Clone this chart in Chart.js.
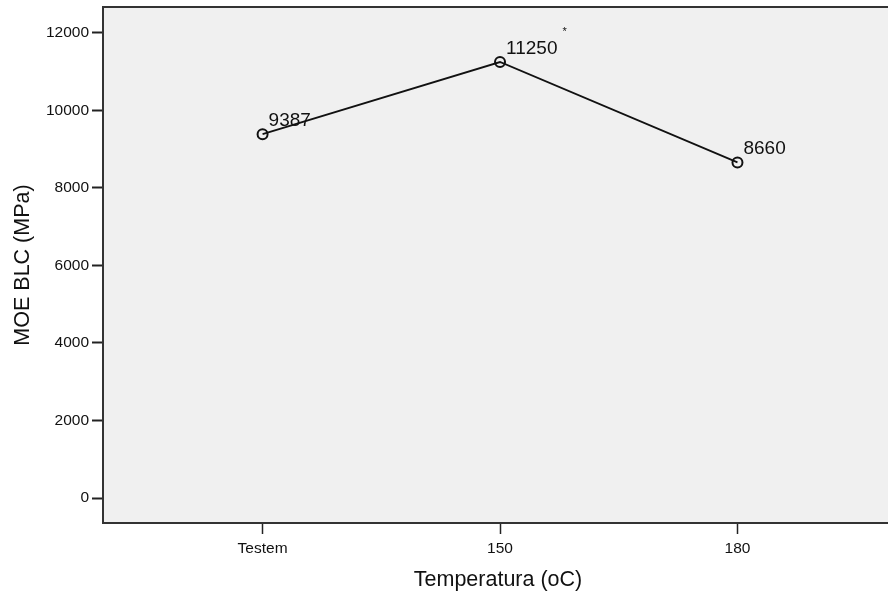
<!DOCTYPE html>
<html lang="pt">
<head>
    <meta charset="UTF-8" />
    <title>MOE BLC x Temperatura</title>
    <script src="https://cdn.jsdelivr.net/npm/chart.js"></script>
    <style>
        html, body {
            margin: 0;
            padding: 0;
            overflow: hidden;
            background: #fff;
        }
        canvas { display: block; }
    </style>
</head>
<body>
    <canvas id="chart" width="900" height="599"></canvas>

    <script>
        // data
        const categories = ['Testem', '150', '180'];
        const moeValues = [9387, 11250, 8660];
        const notes = ['', '*', ''];
        const yTicks = [0, 2000, 4000, 6000, 8000, 10000, 12000];

        const fontFamily = "'Liberation Sans', Arial, Helvetica, sans-serif";

        // grey plot background + top frame line
        const frame = {
            id: 'frame',
            beforeDraw(chart) {
                const { ctx, chartArea: a } = chart;
                ctx.save();
                ctx.fillStyle = '#f0f0f0';
                ctx.fillRect(a.left, a.top, a.right - a.left, a.bottom - a.top);
                ctx.restore();
            },
            afterDraw(chart) {
                const { ctx, chartArea: a } = chart;
                ctx.save();
                ctx.strokeStyle = '#333';
                ctx.lineWidth = 2;
                ctx.beginPath();
                ctx.moveTo(a.left - 1, a.top);
                ctx.lineTo(a.right, a.top);
                ctx.stroke();
                ctx.restore();
            }
        };

        // value labels next to each point
        const valueLabels = {
            id: 'valueLabels',
            afterDatasetsDraw(chart) {
                const { ctx } = chart;
                const meta = chart.getDatasetMeta(0);
                ctx.save();
                ctx.fillStyle = '#111';
                ctx.textBaseline = 'alphabetic';
                ctx.textAlign = 'left';
                meta.data.forEach((pt, i) => {
                    const txt = String(moeValues[i]);
                    ctx.font = '19px ' + fontFamily;
                    const x = pt.x + 6;
                    const y = pt.y - 8;
                    ctx.fillText(txt, x, y);
                    if (notes[i]) {
                        const w = ctx.measureText(txt).width;
                        ctx.font = '11px ' + fontFamily;
                        ctx.fillText(notes[i], x + w + 5, y - 19);
                    }
                });
                ctx.restore();
            }
        };

        new Chart(document.getElementById('chart'), {
            type: 'line',
            data: {
                datasets: [{
                    data: moeValues.map((v, i) => ({ x: i, y: v })),
                    borderColor: '#111',
                    borderWidth: 1.8,
                    pointRadius: 5,
                    pointBorderWidth: 2,
                    pointBorderColor: '#111',
                    pointBackgroundColor: 'rgba(0,0,0,0)',
                    tension: 0
                }]
            },
            options: {
                responsive: false,
                animation: false,
                events: [],
                layout: { padding: { top: 7, right: 1, left: 0, bottom: 0 } },
                plugins: {
                    legend: { display: false },
                    tooltip: { enabled: false }
                },
                scales: {
                    x: {
                        type: 'linear',
                        min: -0.672,
                        max: 2.655,
                        afterBuildTicks: s => { s.ticks = categories.map((c, i) => ({ value: i })); },
                        afterFit: s => { s.height = 76; s.paddingLeft = 0; s.paddingRight = 0; },
                        ticks: {
                            color: '#111',
                            font: { family: fontFamily, size: 15.5 },
                            padding: 5,
                            maxRotation: 0,
                            callback: v => categories[v]
                        },
                        grid: {
                            drawOnChartArea: false,
                            tickLength: 11,
                            tickWidth: 1.5,
                            tickColor: '#222'
                        },
                        border: { display: true, color: '#333', width: 2 },
                        title: {
                            display: true,
                            text: 'Temperatura (oC)',
                            color: '#111',
                            font: { family: fontFamily, size: 21.5 },
                            padding: { top: 0, bottom: 6 }
                        }
                    },
                    y: {
                        min: -645,
                        max: 12670,
                        afterBuildTicks: s => { s.ticks = yTicks.map(v => ({ value: v })); },
                        afterFit: s => { s.width = 103; s.paddingTop = 0; s.paddingBottom = 0; },
                        ticks: {
                            color: '#111',
                            font: { family: fontFamily, size: 15.5 },
                            padding: 3,
                            callback: v => String(v)
                        },
                        grid: {
                            drawOnChartArea: false,
                            tickLength: 11,
                            tickWidth: 2,
                            tickColor: '#222'
                        },
                        border: { display: true, color: '#333', width: 2 },
                        title: {
                            display: true,
                            text: 'MOE BLC (MPa)',
                            color: '#111',
                            font: { family: fontFamily, size: 21.5 },
                            padding: { top: 10, bottom: 0 }
                        }
                    }
                }
            },
            plugins: [frame, valueLabels]
        });
    </script>
</body>
</html>
